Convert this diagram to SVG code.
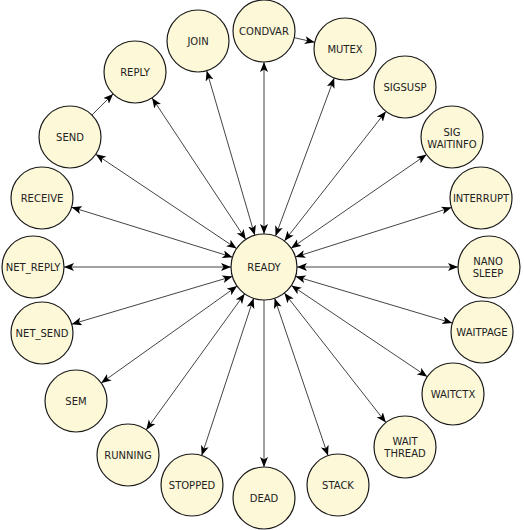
<svg xmlns="http://www.w3.org/2000/svg" width="524" height="530" viewBox="0 0 524 530">
<style>
.n circle{fill:#fdf8d8;stroke:#1a1a1a;stroke-width:1.2}
.n text{font-family:"DejaVu Sans",Verdana,sans-serif;font-size:10px;fill:#222;text-anchor:middle}
#edges line{stroke:#444;stroke-width:1;marker-end:url(#ah)}
#edges line.b{marker-start:url(#ah)}
</style>
<defs>
<marker id="ah" markerUnits="userSpaceOnUse" markerWidth="11" markerHeight="9" refX="10" refY="4" orient="auto-start-reverse" viewBox="0 0 11 9">
<path d="M0,0 L10,4 L0,8 L2.5,4 z" fill="#000"/>
</marker>
</defs>
<g id="edges">
<line class="b" x1="264" y1="234" x2="264" y2="62"/>
<line class="b" x1="275.5" y1="236.1" x2="334.2" y2="78.1"/>
<line class="b" x1="284.4" y1="241" x2="385.9" y2="111.4"/>
<line class="b" x1="291.1" y1="248.2" x2="426.5" y2="154.6"/>
<line class="b" x1="295.4" y1="257" x2="451.5" y2="207.4"/>
<line class="b" x1="297" y1="267" x2="458" y2="267"/>
<line class="b" x1="295.6" y1="276.4" x2="452.3" y2="323.1"/>
<line class="b" x1="291.4" y1="285.4" x2="427.3" y2="376.7"/>
<line class="b" x1="284.4" y1="293" x2="385.9" y2="422.6"/>
<line class="b" x1="274.6" y1="298.3" x2="328" y2="455.6"/>
<line x1="264" y1="300" x2="264" y2="467"/>
<line class="b" x1="253.6" y1="298.3" x2="201.7" y2="455.6"/>
<line class="b" x1="244.7" y1="293.7" x2="146.2" y2="429.9"/>
<line class="b" x1="237.1" y1="286.1" x2="101.2" y2="383"/>
<line class="b" x1="232.4" y1="276.4" x2="71.7" y2="324.2"/>
<line class="b" x1="231" y1="267" x2="64" y2="267"/>
<line class="b" x1="232.5" y1="257.2" x2="71.6" y2="207.2"/>
<line class="b" x1="236.6" y1="248.6" x2="95.8" y2="154.3"/>
<line class="b" x1="245.8" y1="239.5" x2="152.1" y2="97.9"/>
<line class="b" x1="254.8" y1="235.3" x2="206.7" y2="70.8"/>
<line x1="294.3" y1="37.7" x2="314.7" y2="42.3"/>
<line x1="91.9" y1="115.1" x2="113.1" y2="93.9"/>
</g>
<g id="ready" class="n"><circle cx="264" cy="267" r="33"/><text x="264" y="270.5">READY</text></g>
<g id="condvar" class="n"><circle cx="264" cy="31" r="31"/><text x="264" y="34.5">CONDVAR</text></g>
<g id="mutex" class="n"><circle cx="345" cy="49" r="31"/><text x="345" y="52.5">MUTEX</text></g>
<g id="sigsusp" class="n"><circle cx="405" cy="87" r="31"/><text x="405" y="90.5">SIGSUSP</text></g>
<g id="sigwaitinfo" class="n"><circle cx="452" cy="137" r="31"/><text x="452" y="135.5">SIG</text><text x="452" y="147.5">WAITINFO</text></g>
<g id="interrupt" class="n"><circle cx="481" cy="198" r="31"/><text x="481" y="201.5">INTERRUPT</text></g>
<g id="nanosleep" class="n"><circle cx="489" cy="267" r="31"/><text x="488" y="264.5">NANO</text><text x="488" y="276.5">SLEEP</text></g>
<g id="waitpage" class="n"><circle cx="482" cy="332" r="31"/><text x="482" y="335.5">WAITPAGE</text></g>
<g id="waitctx" class="n"><circle cx="453" cy="394" r="31"/><text x="453" y="397.5">WAITCTX</text></g>
<g id="waitthread" class="n"><circle cx="405" cy="447" r="31"/><text x="405" y="445">WAIT</text><text x="405" y="457">THREAD</text></g>
<g id="stack" class="n"><circle cx="338" cy="485" r="31"/><text x="338" y="488.5">STACK</text></g>
<g id="dead" class="n"><circle cx="264" cy="498" r="31"/><text x="264" y="501.5">DEAD</text></g>
<g id="stopped" class="n"><circle cx="192" cy="485" r="31"/><text x="192" y="488.5">STOPPED</text></g>
<g id="running" class="n"><circle cx="128" cy="455" r="31"/><text x="128" y="458.5">RUNNING</text></g>
<g id="sem" class="n"><circle cx="76" cy="401" r="31"/><text x="76" y="404.5">SEM</text></g>
<g id="net_send" class="n"><circle cx="42" cy="333" r="31"/><text x="42" y="336.5">NET_SEND</text></g>
<g id="net_reply" class="n"><circle cx="33" cy="267" r="31"/><text x="33" y="270.5">NET_REPLY</text></g>
<g id="receive" class="n"><circle cx="42" cy="198" r="31"/><text x="42" y="201.5">RECEIVE</text></g>
<g id="send" class="n"><circle cx="70" cy="137" r="31"/><text x="70" y="140.5">SEND</text></g>
<g id="reply" class="n"><circle cx="135" cy="72" r="31"/><text x="135" y="75.5">REPLY</text></g>
<g id="join" class="n"><circle cx="198" cy="41" r="31"/><text x="198" y="44.5">JOIN</text></g>
</svg>
